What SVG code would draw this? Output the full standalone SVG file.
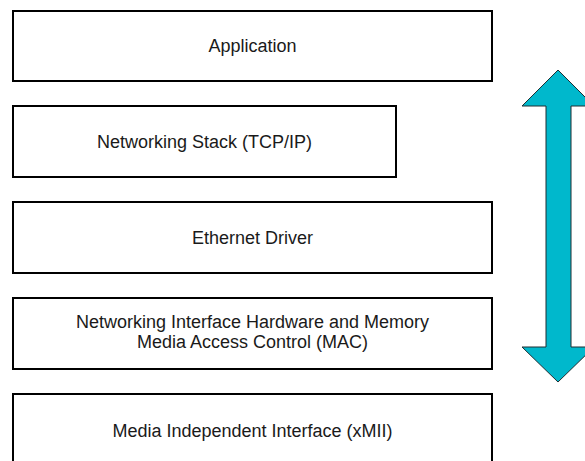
<svg xmlns="http://www.w3.org/2000/svg" width="585" height="461" viewBox="0 0 585 461">
  <style>
    .box { fill: #ffffff; stroke: #000000; stroke-width: 2; }
    .lbl { font-family: "Liberation Sans", Arial, sans-serif; font-size: 18px; fill: #1a1a1a; text-anchor: middle; }
    .dbl { fill: #00B8CC; stroke: #1f2f33; stroke-width: 1; stroke-linejoin: miter; }
  </style>
  <rect width="585" height="461" fill="#ffffff"/>

  <g id="application">
    <rect class="box" x="13" y="11" width="479" height="70"/>
    <text class="lbl" x="252.5" y="52">Application</text>
  </g>

  <g id="networking-stack">
    <rect class="box" x="13" y="106" width="383" height="71"/>
    <text class="lbl" x="204.5" y="148">Networking Stack (TCP/IP)</text>
  </g>

  <g id="ethernet-driver">
    <rect class="box" x="13" y="202" width="479" height="71"/>
    <text class="lbl" x="252.5" y="244">Ethernet Driver</text>
  </g>

  <g id="network-interface-hw">
    <rect class="box" x="13" y="298" width="479" height="71"/>
    <text class="lbl" x="252.5" y="328">Networking Interface Hardware and Memory</text>
    <text class="lbl" x="252.5" y="348">Media Access Control (MAC)</text>
  </g>

  <g id="media-independent-interface">
    <rect class="box" x="13" y="394" width="479" height="71"/>
    <text class="lbl" x="252.5" y="437">Media Independent Interface (xMII)</text>
  </g>

  <g id="connectors">
    <!-- double-headed vertical arrow spanning the stack -->
    <polygon class="dbl" points="558,70 594,106 571,106 571,347 594,347 558,382 522,347 546,347 546,106 522,106"/>
  </g>
</svg>
